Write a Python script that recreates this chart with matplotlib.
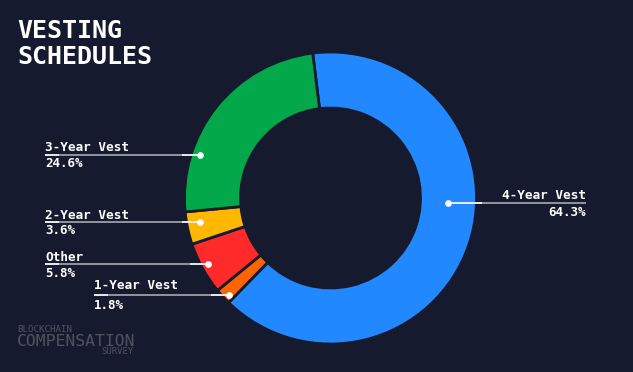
import matplotlib
matplotlib.use("Agg")
import matplotlib.pyplot as plt
import numpy as np

# ---- data ----
categories = ["4-Year Vest", "1-Year Vest", "Other", "2-Year Vest", "3-Year Vest"]
values = [64.3, 1.8, 5.8, 3.6, 24.6]
value_labels = ["64.3%", "1.8%", "5.8%", "3.6%", "24.6%"]
colors = ["#2188FF", "#FF6400", "#FF2B2B", "#FFB700", "#02A84A"]

# ---- layout (pixel coords, y down) ----
BG = "#161A2E"
W, H = 633, 372
center = (330.5, 198.0)
R_OUT, RING_W = 146, 56
# label layout: text x, label baseline y, value baseline y, line y, dot x, align
layout = {
    "4-Year Vest": dict(x=586, ly=199, vy=215.5, line_y=203, dot_x=447.7, ha="right"),
    "1-Year Vest": dict(x=93.5, ly=289, vy=309, line_y=294.7, dot_x=229, ha="left"),
    "Other":       dict(x=45, ly=260.7, vy=277, line_y=264, dot_x=208.3, ha="left"),
    "2-Year Vest": dict(x=45, ly=219.3, vy=234.5, line_y=221.7, dot_x=200, ha="left"),
    "3-Year Vest": dict(x=45, ly=150.7, vy=167, line_y=154.7, dot_x=200, ha="left"),
}

MONO = ["DejaVu Sans Mono"]

fig = plt.figure(figsize=(W / 100, H / 100), dpi=100, facecolor=BG)
ax = fig.add_axes([0, 0, 1, 1])
ax.set_facecolor(BG)

ax.pie(values, colors=colors, center=center, radius=R_OUT,
       startangle=-97, counterclock=True,
       wedgeprops=dict(width=RING_W, edgecolor=BG, linewidth=2.0))
ax.set_xlim(0, W)
ax.set_ylim(H, 0)
ax.set_aspect("equal")
ax.axis("off")

for cat, val in zip(categories, value_labels):
    L = layout[cat]
    if L["ha"] == "left":
        x0, x1 = L["x"], L["dot_x"]
        wx0, wx1 = x1 - 18, x1
        ax.plot([x0, x0 + 14], [L["line_y"]] * 2, color="white", lw=1.1,
                solid_capstyle="butt", zorder=6)
    else:
        x0, x1 = L["dot_x"], L["x"]
        wx0, wx1 = x0, x0 + 34
    ax.plot([x0, x1], [L["line_y"]] * 2, color="#b4b6c0", lw=1.1,
            solid_capstyle="butt", zorder=5)
    ax.plot([wx0, wx1], [L["line_y"]] * 2, color="white", lw=1.1,
            solid_capstyle="butt", zorder=6)
    ax.plot([L["dot_x"]], [L["line_y"]], marker="o", ms=3.8, color="white",
            mec="white", zorder=7)
    ax.text(L["x"], L["ly"], cat, color="white", fontsize=9.2, family=MONO,
            fontweight="bold", ha=L["ha"], va="baseline", zorder=8)
    ax.text(L["x"], L["vy"], val, color="white", fontsize=9.0, family=MONO,
            fontweight="bold", ha=L["ha"], va="baseline", zorder=8)

# title
ax.text(17, 38.3, "VESTING", color="white", fontsize=18, family=MONO,
        fontweight="bold", ha="left", va="baseline")
ax.text(17, 64.5, "SCHEDULES", color="white", fontsize=18, family=MONO,
        fontweight="bold", ha="left", va="baseline")

# watermark
wm = "#50535f"
ax.text(17.5, 331.5, "BLOCKCHAIN", color=wm, fontsize=6.6, family=MONO,
        ha="left", va="baseline")
ax.text(17, 345.8, "COMPENSATION", color=wm, fontsize=11.8, family=MONO,
        ha="left", va="baseline")
ax.text(134, 354.5, "SURVEY", color=wm, fontsize=6.4, family=MONO,
        ha="right", va="baseline")

fig.savefig("out.png", dpi=100, facecolor=BG)
